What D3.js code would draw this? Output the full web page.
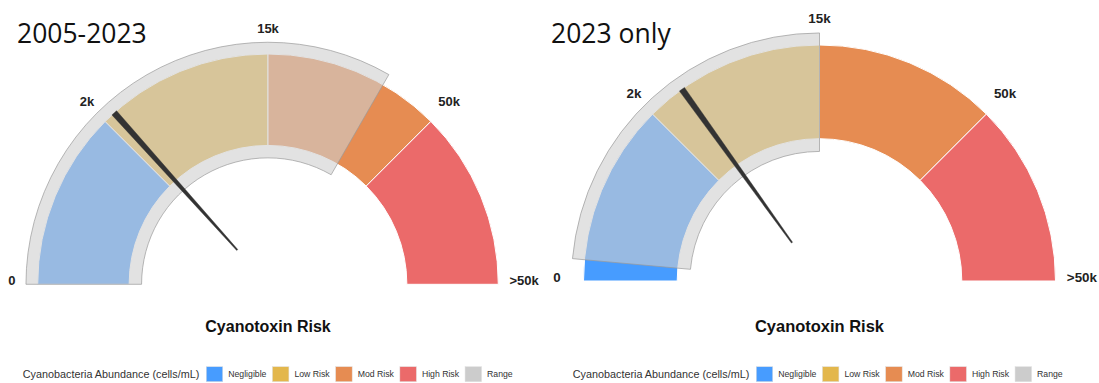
<!DOCTYPE html>
<html>
<head>
<meta charset="utf-8">
<script src="https://cdn.jsdelivr.net/npm/d3@7/dist/d3.min.js"></script>
<style>
  html, body { margin: 0; padding: 0; background: #ffffff; }
  svg { display: block; }
</style>
</head>
<body>
<svg id="chart" width="1099" height="383"></svg>
<script>
// Risk bands of cyanobacteria abundance (cells/mL)
const riskBands   = ["Negligible", "Low Risk", "Mod Risk", "High Risk"];
const bandStops   = [0, 2000, 15000, 50000, 100000];
const bandColors  = ["#479cff", "#e3b74c", "#e68c52", "#eb6a6a"];

// Gauge axis ticks
const tickValues  = [0, 2000, 15000, 50000, 100000];
const tickLabels  = ["0", "2k", "15k", "50k", ">50k"];

// One gauge per period
const panelTitles = ["2005-2023", "2023 only"];
const rangeLow    = [0, 230];
const rangeHigh   = [38300, 15000];
const needleValues = [2900, 4700];

// Legend
const legendTitle  = "Cyanobacteria Abundance (cells/mL)";
const legendLabels = ["Negligible", "Low Risk", "Mod Risk", "High Risk", "Range"];
const legendColors = ["#479cff", "#e3b74c", "#e68c52", "#eb6a6a", "#cccccc"];

const chartTitle = "Cyanotoxin Risk";

// Panel geometry
const panels = [
  { cx: 268,   cy: 284.3, R: 230.3, titleX: 17,  titleY: 42.7, legendX: 22.8,  fontScale: 1.0 },
  { cx: 819.5, cy: 281,   R: 236,   titleX: 551, titleY: 43.3, legendX: 572.8, fontScale: 1.03 }
];

const svg = d3.select("#chart");

// Piecewise angle scale: each risk band spans a quarter of the half circle
const angle = d3.scaleLinear()
  .domain(bandStops)
  .range([-90, -45, 0, 45, 90].map(d => d * Math.PI / 180))
  .clamp(true);

panels.forEach((p, i) => {
  const g = svg.append("g").attr("transform", `translate(${p.cx},${p.cy})`);
  const inner = p.R * 0.603;

  // Coloured risk bands
  const bandArc = d3.arc().innerRadius(inner).outerRadius(p.R);
  g.selectAll("path.band")
    .data(riskBands.map((name, k) => ({ name, k, from: bandStops[k], to: bandStops[k + 1] })))
    .join("path")
    .attr("class", "band")
    .attr("d", d => bandArc({ startAngle: angle(d.from), endAngle: angle(d.to) }))
    .attr("fill", d => bandColors[d.k])
    .attr("stroke", "#ffffff")
    .attr("stroke-width", 1);

  // Observed range overlay
  const rangeArc = d3.arc().innerRadius(p.R * 0.549).outerRadius(p.R * 1.051);
  g.append("path")
    .attr("d", rangeArc({ startAngle: angle(rangeLow[i]), endAngle: angle(rangeHigh[i]) }))
    .attr("fill", "#cfcfcf")
    .attr("fill-opacity", 0.6)
    .attr("stroke", "#9a9a9a")
    .attr("stroke-opacity", 0.7)
    .attr("stroke-width", 1);

  // Needle: narrow near the hub, widening towards the rim
  const a = angle(needleValues[i]);
  const ux = Math.sin(a), uy = -Math.cos(a);
  const nx = Math.cos(a), ny = Math.sin(a);
  const r0 = p.R * 0.2, r1 = p.R;
  const w0 = 0.7, w1 = 3.1;
  const pts = [
    [ux * r0 + nx * w0, uy * r0 + ny * w0],
    [ux * r1 + nx * w1, uy * r1 + ny * w1],
    [ux * r1 - nx * w1, uy * r1 - ny * w1],
    [ux * r0 - nx * w0, uy * r0 - ny * w0]
  ];
  g.append("path")
    .attr("d", d3.line()(pts) + "Z")
    .attr("fill", "#333333")
    .attr("stroke", "#333333")
    .attr("stroke-width", 0.4);

  // Tick labels around the gauge
  const lr = p.R * 1.112;
  g.selectAll("text.tick")
    .data(tickValues.map((v, k) => ({ v, label: tickLabels[k] })))
    .join("text")
    .attr("class", "tick")
    .attr("x", d => lr * Math.sin(angle(d.v)))
    .attr("y", d => -lr * Math.cos(angle(d.v)) - 4 * Math.pow(Math.sin(angle(d.v)), 2))
    .attr("dy", "0.35em")
    .attr("text-anchor", "middle")
    .attr("font-family", "'Liberation Sans', Arial, Helvetica, sans-serif")
    .attr("font-weight", "bold")
    .attr("font-size", 13 * p.fontScale)
    .attr("fill", "#222222")
    .text(d => d.label);

  // Panel title
  svg.append("text")
    .attr("x", p.titleX)
    .attr("y", p.titleY)
    .attr("font-family", "'Open Sans', 'Noto Sans', sans-serif")
    .attr("font-size", 26.5)
    .attr("fill", "#111111")
    .text(panelTitles[i]);

  // Chart title under the gauge
  svg.append("text")
    .attr("x", p.cx)
    .attr("y", 332.3)
    .attr("text-anchor", "middle")
    .attr("font-family", "'Liberation Sans', Arial, Helvetica, sans-serif")
    .attr("font-weight", "bold")
    .attr("font-size", 16 * p.fontScale)
    .attr("fill", "#111111")
    .text(chartTitle);

  // Legend row
  const lg = svg.append("g").attr("transform", `translate(${p.legendX},0)`);
  const lt = lg.append("text")
    .attr("x", 0)
    .attr("y", 378)
    .attr("font-family", "'Liberation Sans', Arial, Helvetica, sans-serif")
    .attr("font-size", 10.8)
    .attr("fill", "#333333")
    .text(legendTitle);
  let x = lt.node().getComputedTextLength() + 7;
  legendLabels.forEach((lab, k) => {
    lg.append("rect")
      .attr("x", x)
      .attr("y", 366.7)
      .attr("width", 16.5)
      .attr("height", 15)
      .attr("fill", legendColors[k])
      .attr("stroke", "#e0e0e0")
      .attr("stroke-width", 0.5);
    const t = lg.append("text")
      .attr("x", x + 22)
      .attr("y", 377)
      .attr("font-family", "'Liberation Sans', Arial, Helvetica, sans-serif")
      .attr("font-size", 8.7)
      .attr("fill", "#333333")
      .text(lab);
    x += 22 + t.node().getComputedTextLength() + 6;
  });
});
</script>
</body>
</html>
